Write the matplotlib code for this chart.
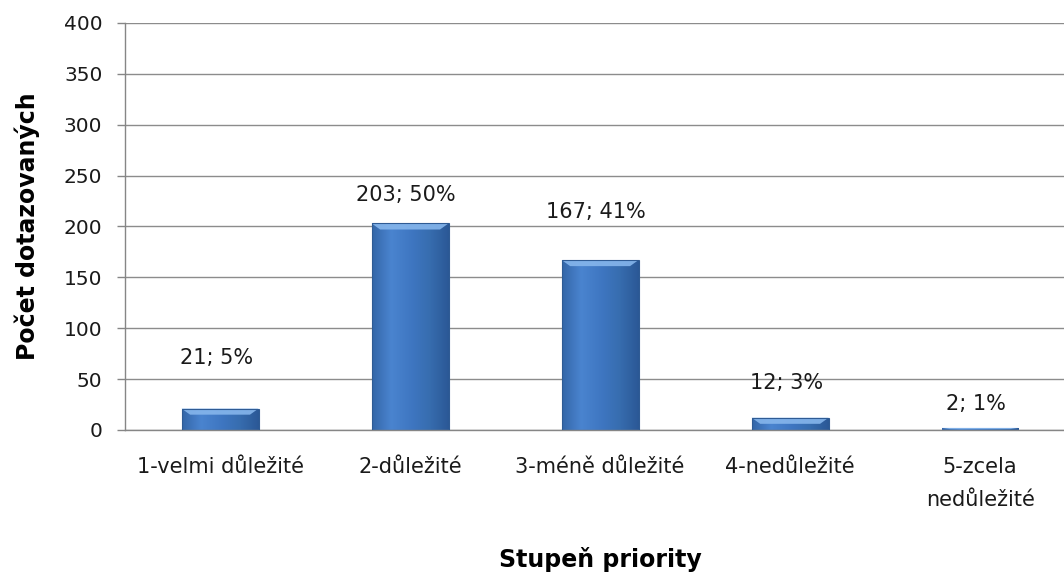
import numpy as np
import matplotlib.pyplot as plt
from matplotlib.patches import Rectangle, Polygon
from matplotlib.colors import LinearSegmentedColormap

# survey answers per priority level
categories = ["1-velmi důležité", "2-důležité", "3-méně důležité",
              "4-nedůležité", "5-zcela\nnedůležité"]
counts = [21, 203, 167, 12, 2]
percents = [5, 50, 41, 3, 1]
yticks = [0, 50, 100, 150, 200, 250, 300, 350, 400]

plt.rcParams["font.family"] = ["DejaVu Sans"]

fig = plt.figure(figsize=(10.64, 5.74), dpi=100)
# plot area runs a little past the right edge of the figure
ax = fig.add_axes([0.1175, 0.251, 0.893, 0.709])

x = np.arange(len(categories))
width = 0.405

# horizontal shading for the bars: lighter near the left, darker at the edges
blue = LinearSegmentedColormap.from_list(
    "bar", ["#3466a8", "#4a84cf", "#3f77c2", "#376daf", "#2b5896"])
grad = np.linspace(0, 1, 256).reshape(1, -1)

for xi, v in zip(x, counts):
    x0, x1 = xi - width / 2, xi + width / 2
    rect = Rectangle((x0, 0), width, v, facecolor="none", edgecolor="none")
    ax.add_patch(rect)
    im = ax.imshow(grad, cmap=blue, aspect="auto", extent=(x0, x1, 0, v),
                   zorder=2, interpolation="bilinear")
    im.set_clip_path(rect)
    # lighter bevel along the top edge
    bev = min(6.0, v * 0.6)
    inset = 0.045
    top = Polygon([(x0, v), (x1, v), (x1 - inset, v - bev), (x0 + inset, v - bev)],
                  closed=True, facecolor="#86b6ec", edgecolor="none", alpha=0.9,
                  zorder=3)
    ax.add_patch(top)
    if v > 5:
        ax.add_patch(Rectangle((x0, 0), width, v, facecolor="none",
                               edgecolor="#2f5b94", linewidth=0.8, zorder=4))

# the value labels sit at slightly different heights above each bar
label_gap = [50, 28, 47, 34, 23]
for xi, v, p, g in zip(x, counts, percents, label_gap):
    ax.text(xi - 0.02, v + g, f"{v}; {p}%", ha="center", va="center",
            fontsize=15, color="#1a1a1a", zorder=5)

ax.set_xlim(-0.5, len(categories) - 0.5)
ax.set_ylim(0, 400)
ax.set_yticks(yticks)
ax.yaxis.grid(True, color="#8c8c8c", linewidth=1.0, zorder=0)
ax.set_axisbelow(True)

ax.set_xticks(x)
ax.set_xticklabels(categories, fontsize=15, linespacing=1.8)
ax.tick_params(axis="x", length=0, pad=19.5, colors="#1a1a1a")
ax.tick_params(axis="y", length=5.8, width=1, color="#868686",
               labelsize=14.5, labelcolor="#1a1a1a", pad=10.5)

for side in ["top", "right"]:
    ax.spines[side].set_visible(False)
for side in ["left", "bottom"]:
    ax.spines[side].set_color("#868686")
    ax.spines[side].set_linewidth(1.0)

ax.set_ylabel("Počet dotazovaných", fontsize=17, fontweight="bold")
ax.set_xlabel("Stupeň priority", fontsize=17, fontweight="bold")
ax.yaxis.set_label_coords(-0.0895, 0.5)
ax.xaxis.set_label_coords(0.5, -0.288)

fig.savefig("out.png", dpi=100)
